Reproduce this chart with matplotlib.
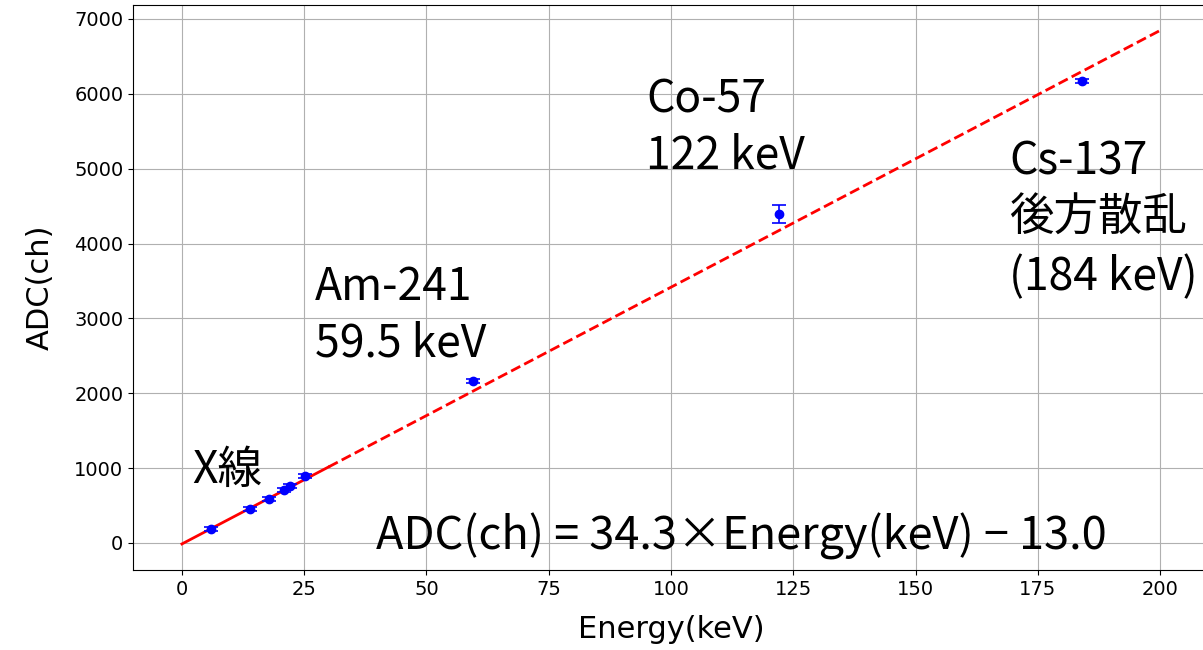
import matplotlib
matplotlib.use("Agg")
import matplotlib.pyplot as plt
import numpy as np

# Data
energy = [6.0, 14.0, 17.9, 20.9, 22.2, 25.2, 59.5, 122.1, 184.1]
adc = [187, 454, 584, 704, 766, 899, 2168, 4399, 6176]
adc_err = [25, 25, 25, 25, 25, 25, 25, 120, 25]
slope = 34.3
intercept = -13.0
fit_solid_range = [0, 30]
fit_dashed_range = [30, 200]

CJK = ['Noto Sans CJK JP', 'DejaVu Sans']

fig = plt.figure(figsize=(12.03, 6.5), dpi=100)
ax = fig.add_axes([133/1203, 1-570/650, (1209-133)/1203, (570-5)/650])

xs = np.array(fit_solid_range, dtype=float)
ax.plot(xs, slope*xs + intercept, color='red', lw=2, ls='-')
xd = np.array(fit_dashed_range, dtype=float)
ax.plot(xd, slope*xd + intercept, color='red', lw=2, ls='--')

ax.errorbar(energy, adc, yerr=adc_err, fmt='o', color='blue',
            ms=6, capsize=5, elinewidth=1.2, capthick=1.2, zorder=3)

ax.set_xlim(-10, 210)
ax.set_ylim(-361, 7187)
ax.set_xticks([0, 25, 50, 75, 100, 125, 150, 175, 200])
ax.set_yticks(range(0, 7001, 1000))
ax.tick_params(labelsize=14)
ax.grid(True, color='#b0b0b0', lw=0.8)
ax.set_xlabel('Energy(keV)', fontsize=22, labelpad=12)
ax.set_ylabel('ADC(ch)', fontsize=22, labelpad=14)

fs = 32
ax.text(2.2, 801, 'X線', fontsize=fs, family=CJK, va='baseline')
ax.text(27.2, 3246, 'Am-241', fontsize=fs, family=CJK, va='baseline')
ax.text(27.2, 2485, '59.5 keV', fontsize=fs, family=CJK, va='baseline')
ax.text(94.9, 5757, 'Co-57', fontsize=fs, family=CJK, va='baseline')
ax.text(94.9, 5009, '122 keV', fontsize=fs, family=CJK, va='baseline')
ax.text(169.1, 4916, 'Cs-137', fontsize=fs, family=CJK, va='baseline')
ax.text(169.1, 4168, '後方散乱', fontsize=fs, family=CJK, va='baseline')
ax.text(169.1, 3380, '(184 keV)', fontsize=fs, family=CJK, va='baseline')
ax.text(39.7, -85, f'ADC(ch) = {slope}×Energy(keV) − {abs(intercept)}',
        fontsize=32.5, family=CJK, va='baseline')

fig.savefig('out.png', dpi=100)
